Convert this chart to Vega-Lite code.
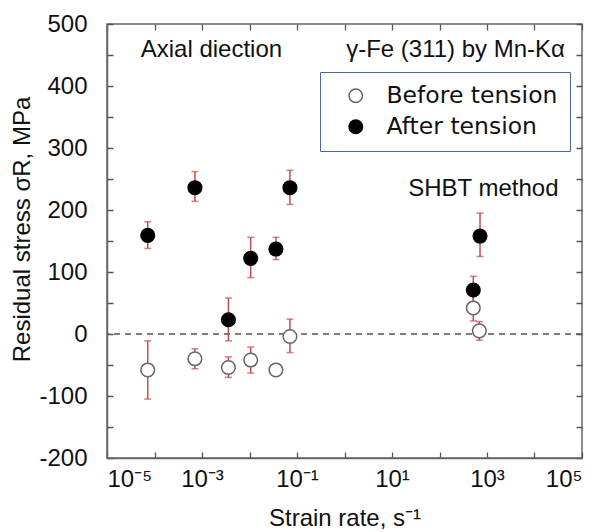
{
  "$schema": "https://vega.github.io/schema/vega-lite/v6.json",
  "width": 475,
  "height": 434,
  "autosize": {"type": "none"},
  "padding": {"left": 107, "top": 24, "right": 21, "bottom": 74},
  "config": {
    "font": "Liberation Sans",
    "view": {"stroke": "#666666", "strokeWidth": 1.5},
    "axis": {"grid": false, "domainColor": "#666666", "domainWidth": 1.5, "labelFont": "Liberation Sans", "labelFontSize": 24, "labelColor": "#111111", "titleFont": "Liberation Sans", "titleFontSize": 24, "titleFontWeight": "normal", "titleColor": "#111111"}
  },
  "datasets": {
    "points": [
      {"rate": 7.2e-5, "stress": -58, "lo": -105, "hi": -11, "series": "Before tension"},
      {"rate": 7.1e-4, "stress": -40, "lo": -56, "hi": -24, "series": "Before tension"},
      {"rate": 3.6e-3, "stress": -54, "lo": -70, "hi": -37, "series": "Before tension"},
      {"rate": 1.06e-2, "stress": -42, "lo": -63, "hi": -21, "series": "Before tension"},
      {"rate": 3.6e-2, "stress": -58, "series": "Before tension"},
      {"rate": 7.1e-2, "stress": -4, "lo": -30, "hi": 24, "series": "Before tension"},
      {"rate": 515, "stress": 42, "lo": 21, "hi": 63, "series": "Before tension"},
      {"rate": 689, "stress": 5, "lo": -10, "hi": 20, "series": "Before tension"},
      {"rate": 7.2e-5, "stress": 159, "lo": 138, "hi": 181, "series": "After tension"},
      {"rate": 7.1e-4, "stress": 236, "lo": 214, "hi": 262, "series": "After tension"},
      {"rate": 3.6e-3, "stress": 23, "lo": -11, "hi": 58, "series": "After tension"},
      {"rate": 1.06e-2, "stress": 122, "lo": 91, "hi": 156, "series": "After tension"},
      {"rate": 3.6e-2, "stress": 137, "lo": 120, "hi": 156, "series": "After tension"},
      {"rate": 7.1e-2, "stress": 236, "lo": 209, "hi": 264, "series": "After tension"},
      {"rate": 515, "stress": 71, "lo": 50, "hi": 93, "series": "After tension"},
      {"rate": 713, "stress": 158, "lo": 125, "hi": 195, "series": "After tension"}
    ],
    "notes": [
      {"note": "Axial diection", "nx": 5.12e-5, "ny": 447, "side": "left"},
      {"note": "γ-Fe (311) by Mn-Kα", "nx": 43800, "ny": 446, "side": "right"},
      {"note": "SHBT method", "nx": 22, "ny": 222, "side": "left"}
    ]
  },
  "layer": [
    {
      "data": {"values": [{"zero": 0}]},
      "mark": {"type": "rule", "color": "#555555", "strokeWidth": 1.5, "strokeDash": [6, 5]},
      "encoding": {
        "y": {"field": "zero", "type": "quantitative", "scale": {"domain": [-200, 500], "nice": false, "zero": false}, "axis": null}
      }
    },
    {
      "data": {"name": "points"},
      "transform": [{"filter": "isValid(datum.lo)"}],
      "mark": {"type": "rule", "color": "#c8494b", "strokeWidth": 1.5},
      "encoding": {
        "x": {"field": "rate", "type": "quantitative", "scale": {"type": "log", "domain": [1e-5, 1e5], "nice": false}, "axis": null},
        "y": {"field": "lo", "type": "quantitative", "scale": {"domain": [-200, 500], "nice": false, "zero": false}, "axis": null},
        "y2": {"field": "hi"}
      }
    },
    {
      "data": {"name": "points"},
      "transform": [{"filter": "isValid(datum.lo)"}],
      "mark": {"type": "tick", "orient": "horizontal", "color": "#c8494b", "size": 7, "thickness": 1.5},
      "encoding": {
        "x": {"field": "rate", "type": "quantitative", "axis": null},
        "y": {"field": "lo", "type": "quantitative", "axis": null}
      }
    },
    {
      "data": {"name": "points"},
      "transform": [{"filter": "isValid(datum.hi)"}],
      "mark": {"type": "tick", "orient": "horizontal", "color": "#c8494b", "size": 7, "thickness": 1.5},
      "encoding": {
        "x": {"field": "rate", "type": "quantitative", "axis": null},
        "y": {"field": "hi", "type": "quantitative", "axis": null}
      }
    },
    {
      "data": {"name": "points"},
      "mark": {"type": "point", "shape": "circle", "filled": false, "size": 185, "strokeWidth": 1.5, "opacity": 1},
      "encoding": {
        "x": {"field": "rate", "type": "quantitative",
          "axis": {"orient": "bottom", "values": [1e-5, 1e-4, 1e-3, 1e-2, 1e-1, 1, 10, 100, 1000, 10000, 100000], "ticks": false, "labelPadding": 9,
            "grid": true, "gridColor": "#555555", "gridWidth": 1.3, "gridOpacity": 1, "gridDash": [6, 422],
            "labelExpr": "datum.value == 0.00001 ? '10⁻⁵' : datum.value == 0.001 ? '10⁻³' : datum.value == 0.1 ? '10⁻¹' : datum.value == 10 ? '10¹' : datum.value == 1000 ? '10³' : datum.value == 100000 ? '10⁵' : ''",
            "title": "Strain rate, s⁻¹", "titleY": 60, "titleBaseline": "middle"}},
        "y": {"field": "stress", "type": "quantitative",
          "axis": {"orient": "left", "values": [-200, -150, -100, -50, 0, 50, 100, 150, 200, 250, 300, 350, 400, 450, 500], "ticks": false, "labelPadding": 20,
            "grid": true, "gridColor": "#555555", "gridWidth": 1.3, "gridOpacity": 1, "gridDash": [6, 463],
            "labelExpr": "datum.value % 100 == 0 ? '' + datum.value : ''",
            "title": "Residual stress σR, MPa", "titleX": -85, "titleY": 205, "titleBaseline": "middle"}},
        "fill": {"field": "series", "type": "nominal", "scale": {"domain": ["Before tension", "After tension"], "range": ["#ffffff", "#000000"]},
          "legend": {"title": null, "orient": "none", "legendX": 213, "legendY": 48, "strokeColor": "#4f67a8", "fillColor": "#ffffff", "padding": 12, "symbolOffset": 12, "labelOffset": 19, "rowPadding": 6, "labelFont": "DejaVu Sans", "labelFontSize": 23.5, "labelLimit": 400, "labelColor": "#111111", "symbolSize": 180, "symbolStrokeWidth": 1.5, "cornerRadius": 0,
            "encode": {"legend": {"update": {"strokeWidth": {"value": 2}}}}}},
        "stroke": {"field": "series", "type": "nominal", "scale": {"domain": ["Before tension", "After tension"], "range": ["#666666", "#000000"]}, "legend": null}
      }
    },
    {
      "data": {"name": "notes"},
      "transform": [{"filter": "datum.side == 'left'"}],
      "mark": {"type": "text", "align": "left", "baseline": "alphabetic", "fontSize": 24, "font": "Liberation Sans", "color": "#111111"},
      "encoding": {
        "x": {"field": "nx", "type": "quantitative", "axis": null},
        "y": {"field": "ny", "type": "quantitative", "axis": null},
        "text": {"field": "note"}
      }
    },
    {
      "data": {"name": "notes"},
      "transform": [{"filter": "datum.side == 'right'"}],
      "mark": {"type": "text", "align": "right", "baseline": "alphabetic", "fontSize": 24, "font": "Liberation Sans", "color": "#111111"},
      "encoding": {
        "x": {"field": "nx", "type": "quantitative", "axis": null},
        "y": {"field": "ny", "type": "quantitative", "axis": null},
        "text": {"field": "note"}
      }
    }
  ],
  "resolve": {"axis": {"x": "independent", "y": "independent"}}
}
